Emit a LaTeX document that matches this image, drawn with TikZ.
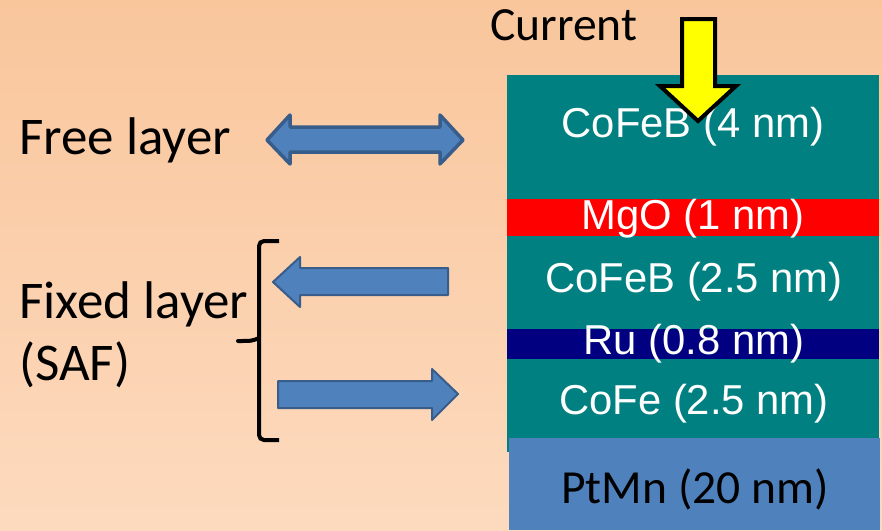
\documentclass[tikz,border=0pt]{standalone}
\usepackage{fontspec}
\setmainfont{Liberation Sans}
\newfontfamily\calibri{Carlito}
\begin{document}
\begin{tikzpicture}[x=1pt,y=-1pt]
\definecolor{bgtop}{RGB}{249,198,156}
\definecolor{bgbot}{RGB}{253,218,190}
\definecolor{tealc}{RGB}{0,128,128}
\definecolor{mgored}{RGB}{255,0,0}
\definecolor{runavy}{RGB}{0,0,128}
\definecolor{ptmn}{RGB}{79,129,189}
\definecolor{arrfill}{RGB}{79,129,189}
\definecolor{arrline}{RGB}{56,93,138}
\definecolor{curyel}{RGB}{255,255,0}
\tikzset{
  lyr/.style={text=white, font=\fontsize{41.8}{42}\selectfont, anchor=base, inner sep=0pt},
  lbl/.style={text=black, font=\calibri\fontsize{53}{53}\selectfont, anchor=base west, inner sep=0pt},
  blockarrow/.style={fill=arrfill, draw=arrline, line width=3pt, line join=round},
  curarrow/.style={fill=curyel, draw=black, line width=4pt, line join=miter},
  bracket/.style={draw=black, line width=4pt, rounded corners=5pt}
}
% background
\shade[top color=bgtop, bottom color=bgbot] (0,0) rectangle (882,530);
\useasboundingbox (0,0) rectangle (882,530);
% layer stack
\fill[tealc] (507,75) rectangle (879,452);
\fill[mgored] (507,199) rectangle (879,236);
\fill[runavy] (507,329) rectangle (879,359);
\fill[ptmn] (509,438) rectangle (880,530);
\node[lyr] (cofeb4) at (693,137) {CoFeB (4 nm)};
\node[lyr] (mgo) at (693,229) {MgO (1 nm)};
\node[lyr] (cofeb25) at (694,292) {CoFeB (2.5 nm)};
\node[lyr] (ru) at (694,354) {Ru (0.8 nm)};
\node[lyr] (cofe) at (694,414) {CoFe (2.5 nm)};
\node[anchor=base, inner sep=0pt, font=\calibri\fontsize{47.5}{47.5}\selectfont] (ptmnl) at (695,503) {PtMn (20 nm)};
% current
\node[anchor=base west, inner sep=0pt, font=\calibri\fontsize{47.6}{47.6}\selectfont] (current) at (490,40) {Current};
\draw[curarrow] (682,19) -- (715,19) -- (715,86) -- (736,86) -- (698,121) -- (660,86) -- (682,86) -- cycle;
% labels
\node[lbl] (free) at (19,154) {Free layer};
\node[lbl] (fixed) at (19,318) {Fixed layer};
\node[lbl] (saf) at (19,380) {(SAF)};
% free layer double arrow
\draw[blockarrow, line width=3.5pt] (267,140) -- (290,115) -- (290,127) -- (440,127) -- (440,115) -- (463,140) -- (440,164) -- (440,152) -- (290,152) -- (290,164) -- cycle;
% fixed layer arrows
\draw[blockarrow, line width=2pt] (273,282) -- (300,257) -- (300,268) -- (448,268) -- (448,295) -- (300,295) -- (300,307) -- cycle;
\draw[blockarrow, line width=2pt] (458,394) -- (432,369) -- (432,381) -- (278,381) -- (278,408) -- (432,408) -- (432,420) -- cycle;
% bracket
\draw[bracket] (279,241) -- (259,241) -- (259,440) -- (279,440);
\draw[draw=black, line width=4pt, line cap=round] (259,338) .. controls (252,341) .. (238,341);
\end{tikzpicture}
\end{document}
